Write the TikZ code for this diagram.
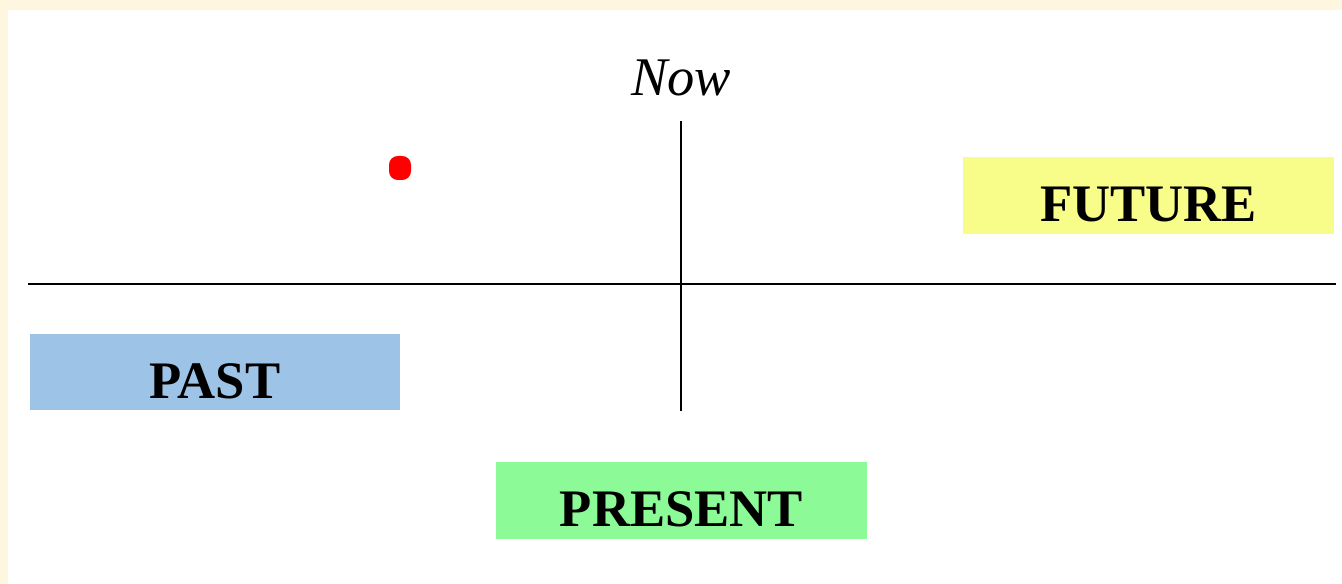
\documentclass[tikz,border=0pt]{standalone}
\usepackage{fontspec}
\setmainfont{Liberation Serif}
\usetikzlibrary{positioning}
\definecolor{cream}{HTML}{FFF6E0}
\definecolor{pastblue}{HTML}{9DC3E6}
\definecolor{presentgreen}{HTML}{8CFA96}
\definecolor{futureyellow}{HTML}{F8FC88}
\tikzset{
	era/.style={minimum width=7.42cm, text height=1.30cm, text depth=0.24cm, inner sep=0pt,
		font=\fontsize{30}{30}\selectfont\bfseries},
}
\begin{document}
\begin{tikzpicture}[x=0.02cm,y=-0.02cm]
		\def\nowx{681}
		\def\axisy{284}
		\useasboundingbox (0,0) rectangle (1342,584);
		\fill[cream] (0,0) rectangle (1342,584); % fondo
		\fill[white] (8,10) rectangle (1342,584);
		\coordinate (left) at (28,\axisy);
		\coordinate (right) at (1336,\axisy);
		\coordinate (top) at (\nowx,121);
		\coordinate (bottom) at (\nowx,411);
		\draw[line width=0.8pt] (left) -- (right); % eje del tiempo
		\draw[line width=0.8pt] (top) -- (bottom); % ahora
		\node (now) at (\nowx,78) {\fontsize{31}{31}\selectfont\itshape Now};
		\fill[red, rounded corners=5pt] (389,156) rectangle (411,180);
		\node[era, fill=futureyellow] (future) at (1148.5,195.5) {FUTURE};
		\node[era, fill=pastblue] (past) at (215,372) {PAST};
		\node[era, fill=presentgreen] (present) at (681.5,500.5) {PRESENT};
		\end{tikzpicture}
\end{document}
